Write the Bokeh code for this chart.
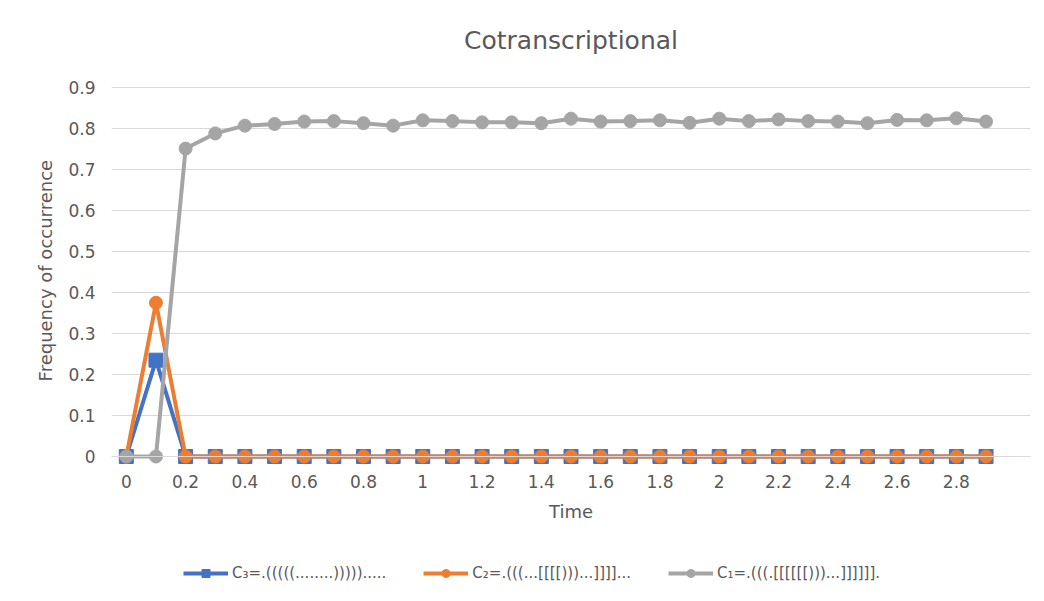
from bokeh.plotting import figure
from bokeh.models import Range1d, FixedTicker, Legend, LegendItem, ColumnDataSource
from bokeh.embed import file_html
from bokeh.resources import INLINE

time_labels = ["0", "0.1", "0.2", "0.3", "0.4", "0.5", "0.6", "0.7", "0.8", "0.9",
               "1", "1.1", "1.2", "1.3", "1.4", "1.5", "1.6", "1.7", "1.8", "1.9",
               "2", "2.1", "2.2", "2.3", "2.4", "2.5", "2.6", "2.7", "2.8", "2.9"]
c3 = [0, 0.235] + [0] * 28
c2 = [0, 0.375] + [0] * 28
c1 = [0, 0, 0.751, 0.788, 0.807, 0.811, 0.817, 0.818, 0.813, 0.807,
      0.820, 0.818, 0.815, 0.815, 0.813, 0.824, 0.817, 0.818, 0.820, 0.814,
      0.824, 0.818, 0.822, 0.818, 0.817, 0.813, 0.821, 0.820, 0.825, 0.817]
names = ["C\u2083=.(((((........))))).....",
         "C\u2082=.(((...[[[[)))...]]]]...",
         "C\u2081=.(((.[[[[[[)))...]]]]]]."]
colors = ["#4472C4", "#ED7D31", "#A5A5A5"]
y_ticks = [0, 0.1, 0.2, 0.3, 0.4, 0.5, 0.6, 0.7, 0.8, 0.9]

FONT = "DejaVu Sans"
TXT = "#595959"

idx = list(range(len(time_labels)))
src = ColumnDataSource(dict(x=idx, c3=c3, c2=c2, c1=c1))

# frame spans the plot area plus the room for the x labels and the legend;
# the y scale keeps 0..0.9 where the reference has it
p = figure(frame_width=919, frame_height=531, output_backend="svg", toolbar_location=None,
           x_range=Range1d(-0.5, 30.5), y_range=Range1d(-0.3268, 0.9683),
           min_border_left=111, min_border_right=10, min_border_top=59, min_border_bottom=10)
p.title.text = "Cotranscriptional"
p.title.align = "center"
p.title.text_font = FONT
p.title.text_font_size = "25px"
p.title.text_font_style = "normal"
p.title.text_color = TXT
p.outline_line_color = None
p.background_fill_color = "white"
p.border_fill_color = "white"

p.xgrid.grid_line_color = None
p.ygrid.grid_line_color = "#D9D9D9"
p.ygrid.grid_line_width = 1
p.yaxis.ticker = FixedTicker(ticks=y_ticks)
p.yaxis.bounds = (y_ticks[0], y_ticks[-1])
p.yaxis.major_label_overrides = {v: ("0" if v == 0 else str(v)) for v in y_ticks}
p.xaxis.ticker = FixedTicker(ticks=idx[::2])
p.xaxis.major_label_overrides = {i: time_labels[i] for i in idx[::2]}
p.xaxis.fixed_location = 0

for ax in (p.xaxis[0], p.yaxis[0]):
    ax.major_tick_line_color = None
    ax.minor_tick_line_color = None
    ax.major_label_text_font = FONT
    ax.major_label_text_font_size = "17px"
    ax.major_label_text_color = TXT
    ax.axis_label_text_font = FONT
    ax.axis_label_text_font_size = "18px"
    ax.axis_label_text_font_style = "normal"
    ax.axis_label_text_color = TXT
p.yaxis.axis_line_color = None
p.xaxis.axis_line_color = "#D9D9D9"
p.xaxis.axis_label = "Time"
# leading no-break spaces lift the label to the centre of the 0..0.9 span
p.yaxis.axis_label = "\u00a0" * 19 + "Frequency of occurrence"
p.xaxis.major_label_standoff = 12
p.xaxis.axis_label_standoff = 10
p.yaxis.major_label_standoff = 10
p.yaxis.axis_label_standoff = 9

items = []
for key, col, name, marker in [("c3", colors[0], names[0], "square"),
                                ("c2", colors[1], names[1], "circle"),
                                ("c1", colors[2], names[2], "circle")]:
    ln = p.line("x", key, source=src, line_color=col, line_width=4)
    mk = p.scatter("x", key, source=src, marker=marker,
                   size=(14 if marker == "square" else 13),
                   fill_color=col, line_color=col)
    items.append(LegendItem(label=name, renderers=[ln, mk]))

legend = Legend(items=items, orientation="horizontal", location=(72, 7),
                label_text_font=FONT, label_text_font_size="15px",
                label_text_color=TXT, glyph_width=45, glyph_height=20,
                label_standoff=4, spacing=37, border_line_color=None,
                background_fill_alpha=0, margin=0, padding=8)
p.add_layout(legend, "center")

open("out.html", "w").write(file_html(p, INLINE))
